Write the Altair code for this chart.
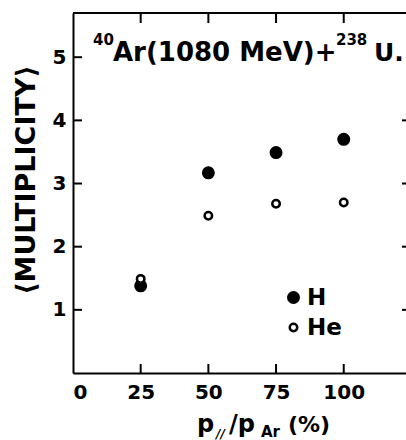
import altair as alt
import pandas as pd

# ---- data ----
p_par = [25, 50, 75, 100]
mult_h = [1.38, 3.17, 3.49, 3.70]
mult_he = [1.49, 2.49, 2.68, 2.70]
series = ["H", "He"]
x_ticks = [0, 25, 50, 75, 100]
y_ticks = [1, 2, 3, 4, 5]
right_ticks = [1, 2, 3, 4]
inner_x_ticks = [25, 50, 75, 100]
y_title = "⟨MULTIPLICITY⟩"

W, H = 333, 360
FONT = "DejaVu Sans"

df = pd.DataFrame({
    "p": p_par * 2,
    "m": mult_h + mult_he,
    "s": ["H"] * len(p_par) + ["He"] * len(p_par),
})

xs = alt.Scale(domain=[0, 123], nice=False, zero=False)
ys = alt.Scale(domain=[0, 5.7], nice=False, zero=False)

x_axis = alt.Axis(values=x_ticks, title=None, ticks=False, grid=False,
                  domainColor="black", domainWidth=2, format="d",
                  labelFontSize=20, labelPadding=9, labelColor="black",
                  labelFont=FONT, labelFontWeight="bold")
y_axis = alt.Axis(values=y_ticks, title=None, ticks=False, grid=False,
                  domainColor="black", domainWidth=2, format="d",
                  labelFontSize=20, labelPadding=7, labelColor="black",
                  labelFont=FONT, labelFontWeight="bold")

leg = alt.Legend(title=None, symbolStrokeColor="black", symbolStrokeWidth=2.5, symbolType="circle")

points = alt.Chart(df).mark_point(shape="circle", filled=True, opacity=1, strokeWidth=2.5).encode(
    x=alt.X("p:Q", scale=xs, axis=x_axis),
    y=alt.Y("m:Q", scale=ys, axis=y_axis),
    fill=alt.Fill("s:N", scale=alt.Scale(domain=series, range=["black", "white"]), legend=leg),
    stroke=alt.Stroke("s:N", scale=alt.Scale(domain=series, range=["black", "black"]), legend=leg),
    size=alt.Size("s:N", scale=alt.Scale(domain=series, range=[110, 56]), legend=leg),
)

bottom_ticks = alt.Chart(pd.DataFrame({"v": inner_x_ticks})).mark_rule(color="black", strokeWidth=2).encode(
    x=alt.X("v:Q", scale=xs, axis=x_axis), y=alt.value(H), y2=alt.value(H - 9))
top_ticks = alt.Chart(pd.DataFrame({"v": inner_x_ticks})).mark_rule(color="black", strokeWidth=2).encode(
    x=alt.X("v:Q", scale=xs, axis=x_axis), y=alt.value(0), y2=alt.value(10))
left_ticks = alt.Chart(pd.DataFrame({"v": y_ticks})).mark_rule(color="black", strokeWidth=2).encode(
    y=alt.Y("v:Q", scale=ys, axis=y_axis), x=alt.value(0), x2=alt.value(9))
rticks = alt.Chart(pd.DataFrame({"v": right_ticks})).mark_rule(color="black", strokeWidth=2).encode(
    y=alt.Y("v:Q", scale=ys, axis=y_axis), x=alt.value(W - 4), x2=alt.value(W))
top_line = alt.Chart(pd.DataFrame({"v": [0]})).mark_rule(color="black", strokeWidth=2).encode(
    x=alt.value(0), x2=alt.value(W), y=alt.value(0))

one = pd.DataFrame({"t": [0]})


def label(text, x, y, size, **kw):
    return alt.Chart(one).mark_text(text=text, font=FONT, fontSize=size, align="left",
                                    baseline="alphabetic", color="black", fontWeight="bold",
                                    **kw).encode(x=alt.value(x), y=alt.value(y))


title_parts = [
    label("40", 20, 32, 15),
    label("Ar(1080 MeV)+", 40, 48, 26),
    label("238", 263, 32, 15),
    label("U.", 301, 48, 25),
]
ytitle = alt.Chart(one).mark_text(text=y_title, font=FONT, fontSize=27, angle=270, align="center",
                                  baseline="middle", color="black", fontWeight="bold").encode(
    x=alt.value(-46), y=alt.value(167))
xtitle_parts = [
    label("p", 124, 419, 24),
    label("//", 143, 425, 12, fontStyle="italic"),
    label("/p", 156, 419, 24),
    label("Ar", 188, 424, 15),
    label("(%)", 215, 419, 22),
]

chart = alt.layer(
    top_line, bottom_ticks, top_ticks, left_ticks, rticks, points,
    *title_parts, ytitle, *xtitle_parts,
).properties(
    width=W, height=H,
    autosize=alt.AutoSizeParams(type="none"),
    padding={"left": 73, "top": 13, "right": 0, "bottom": 67},
).configure_view(stroke=None).configure_legend(
    orient="none", legendX=209, legendY=273, padding=0, labelFontSize=23, labelFont=FONT,
    labelFontWeight="bold", labelColor="black", rowPadding=6, labelOffset=2,
)

chart.save("out.html", embed_options={"renderer": "svg", "actions": False})
